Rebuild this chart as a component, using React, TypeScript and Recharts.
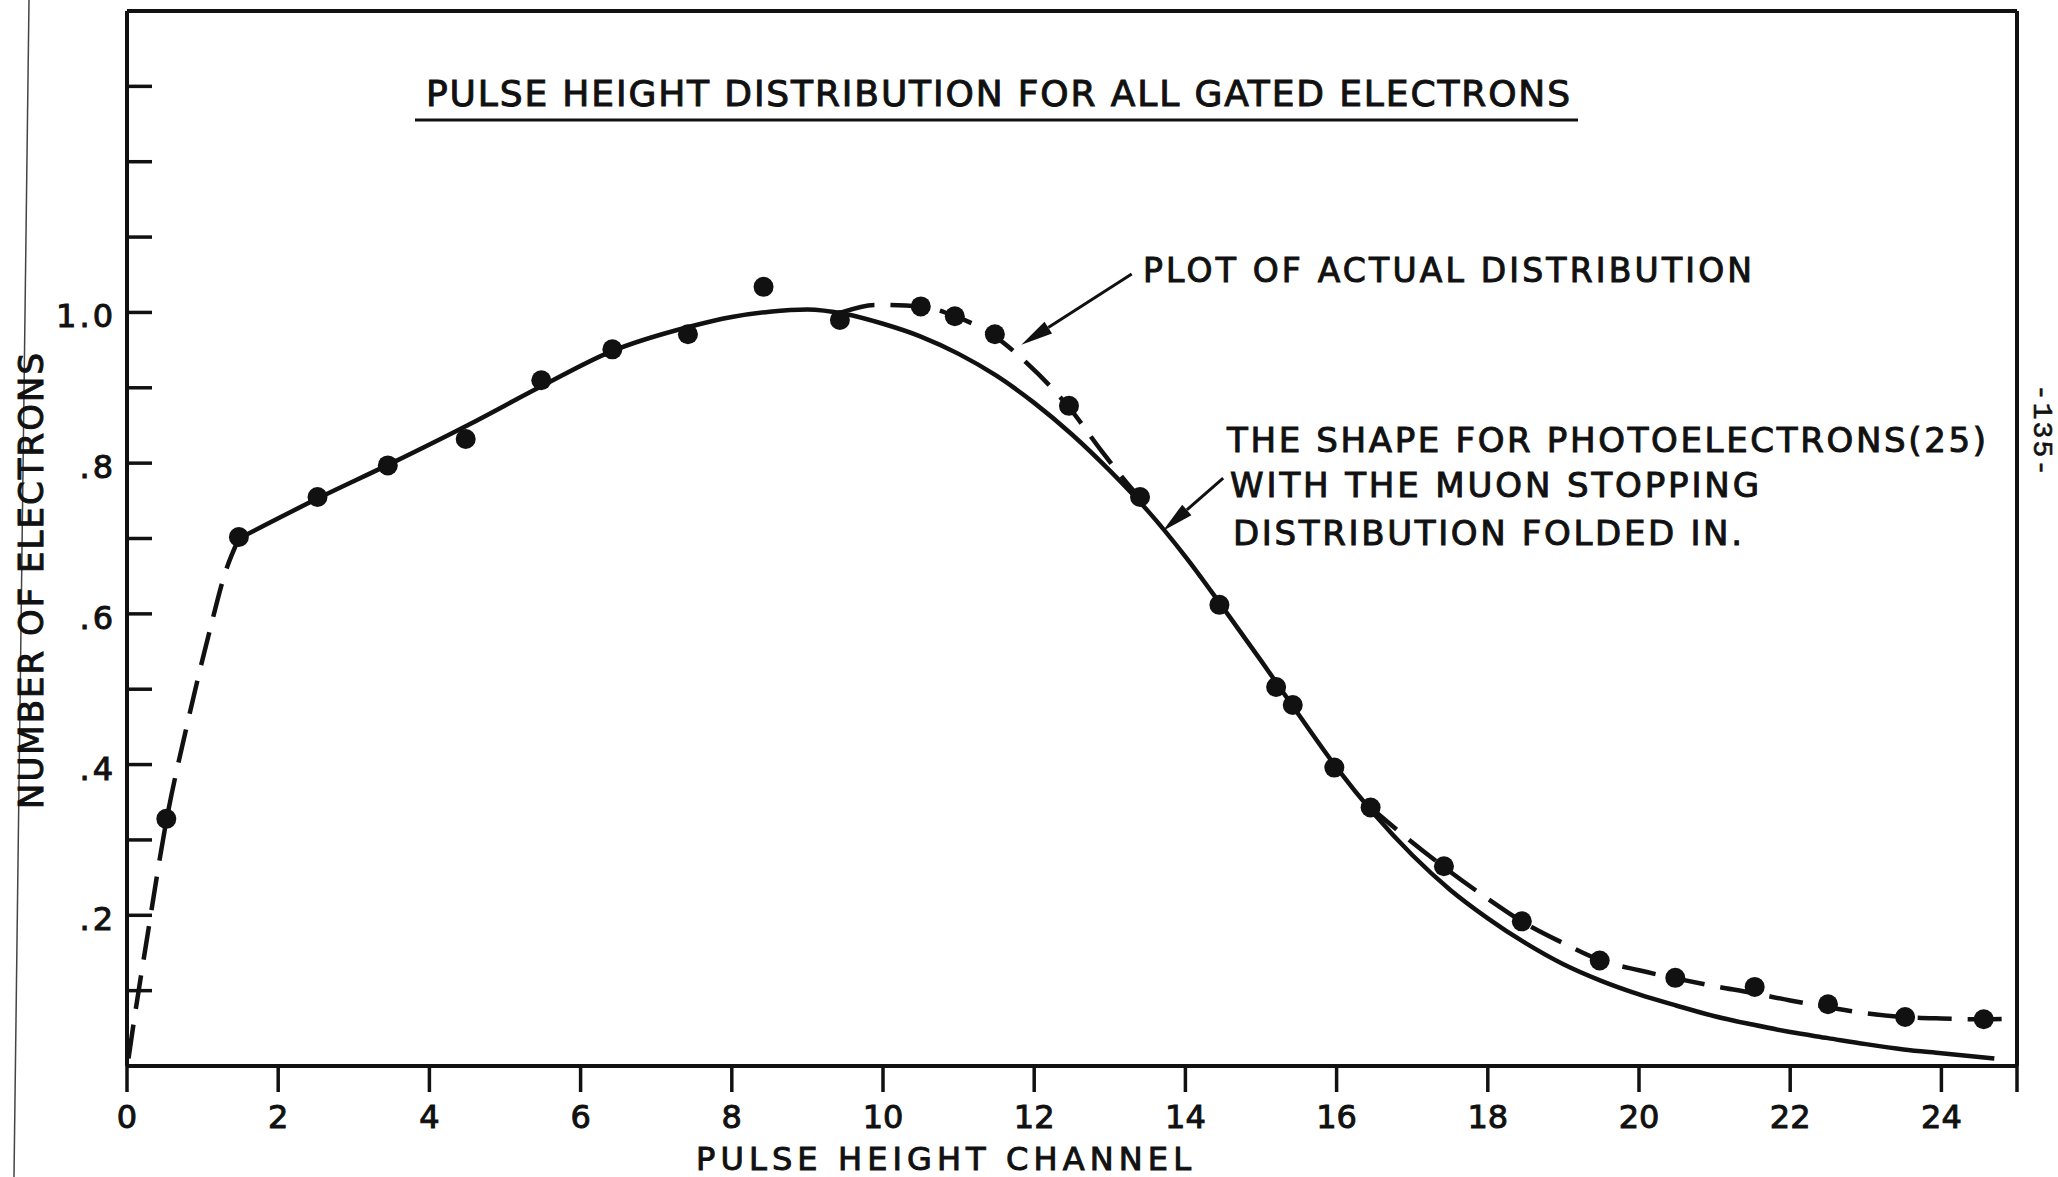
import React from 'react';
import { ComposedChart, Line, Scatter, XAxis, YAxis, ReferenceLine } from 'recharts';

// measured points: pulse height channel vs. relative number of electrons
const channelX = [
  0.52, 1.48, 2.52, 3.45, 4.48, 5.48, 6.42, 7.42, 8.42, 9.43, 10.5, 10.95, 11.48, 12.46,
  13.4, 14.45, 15.2, 15.42, 15.97, 16.45, 17.42, 18.45, 19.48, 20.48, 21.53, 22.5, 23.52, 24.56,
];
const electronsY = [
  0.328, 0.702, 0.755, 0.797, 0.832, 0.91, 0.951, 0.971, 1.034, 0.99, 1.008, 0.995, 0.971, 0.876,
  0.755, 0.612, 0.503, 0.479, 0.396, 0.343, 0.265, 0.192, 0.14, 0.117, 0.105, 0.082, 0.065, 0.062,
];

// dashed curve through the measurements (drawn where it leaves the solid curve)
const riseX = [0.02, 0.1, 0.25, 0.52, 0.8, 1.1, 1.3, 1.48];
const riseY = [0.01, 0.065, 0.16, 0.325, 0.455, 0.58, 0.655, 0.7];
const peakX = [9.45, 9.9, 10.5, 10.95, 11.47, 11.9, 12.46, 12.9, 13.3, 13.45];
const peakY = [1.0, 1.01, 1.008, 0.995, 0.969, 0.933, 0.874, 0.815, 0.765, 0.748];
const tailX = [16.45, 16.9, 17.42, 18.0, 18.45, 19.0, 19.5, 20.0, 20.5, 21.0, 21.5, 22.0, 22.5, 23.0, 23.5, 24.0, 24.55, 24.95];
const tailY = [0.343, 0.305, 0.264, 0.222, 0.192, 0.163, 0.14, 0.127, 0.116, 0.106, 0.097, 0.087, 0.078, 0.07, 0.065, 0.063, 0.062, 0.063];

// photoelectron shape with the muon stopping distribution folded in
const shapeX = [
  1.48, 2.5, 3.5, 4.5, 5.5, 6.4, 7.4, 8.0, 8.5, 9.0, 9.5, 10.0, 10.5, 11.0, 11.5, 12.0, 12.5, 13.0,
  13.5, 14.0, 14.5, 15.0, 15.5, 16.0, 16.5, 17.0, 17.5, 18.0, 18.5, 19.0, 19.5, 20.0, 20.5, 21.0,
  21.5, 22.0, 22.5, 23.0, 23.5, 24.0, 24.7,
];
const shapeY = [
  0.7, 0.752, 0.8, 0.85, 0.903, 0.948, 0.98, 0.994, 1.001, 1.004, 0.998, 0.985, 0.968, 0.945, 0.916,
  0.88, 0.838, 0.79, 0.737, 0.676, 0.608, 0.538, 0.466, 0.396, 0.334, 0.28, 0.234, 0.196, 0.163,
  0.135, 0.113, 0.095, 0.08, 0.066, 0.055, 0.045, 0.037, 0.029, 0.022, 0.017, 0.01,
];

const bottomTicks = [0, 2, 4, 6, 8, 10, 12, 14, 16, 18, 20, 22, 24, 25];
const topTicks = [2, 4, 6, 8, 10, 12, 14, 16, 18, 20, 22, 24];
const yTicks = [0.1, 0.2, 0.3, 0.4, 0.5, 0.6, 0.7, 0.8, 0.9, 1.0, 1.1, 1.2, 1.3];
const yTickLabels: Record<string, string> = { '0.2': '.2', '0.4': '.4', '0.6': '.6', '0.8': '.8', '1.0': '1.0' };

const zip = (xs: number[], ys: number[]) => xs.map((x, i) => ({ x, y: ys[i] }));

const points = zip(channelX, electronsY);
const rise = zip(riseX, riseY);
const peak = zip(peakX, peakY);
const tail = zip(tailX, tailY);
const shape = zip(shapeX, shapeY);

const INK = '#111';
const FONT = '"DejaVu Sans", sans-serif';
const DASH = '34 16';
// lettering is a little heavier than the plain font
const letter = { fontFamily: FONT, fill: INK, stroke: INK, strokeWidth: 1 };

function BottomTick({ x, y, payload }: any) {
  const v = payload.value;
  return (
    <g>
      <line x1={x} y1={y} x2={x} y2={y + 26} stroke={INK} strokeWidth={3.5} />
      {v % 2 === 0 && (
        <text x={x} y={y + 62} textAnchor="middle" fontSize={32} {...letter}>
          {v}
        </text>
      )}
    </g>
  );
}

function TopTick({ x, y }: any) {
  return <line x1={x} y1={y} x2={x} y2={y + 29} stroke={INK} strokeWidth={3.5} />;
}

function LeftTick({ x, y, payload }: any) {
  const label = yTickLabels[Number(payload.value).toFixed(1)];
  return (
    <g>
      <line x1={x} y1={y} x2={x + 25} y2={y} stroke={INK} strokeWidth={3.5} />
      {label && (
        <text x={x - 11} y={y + 15} textAnchor="end" fontSize={32} letterSpacing={3} {...letter}>
          {label}
        </text>
      )}
    </g>
  );
}

function RightTick({ x, y }: any) {
  return <line x1={x} y1={y} x2={x - 25} y2={y} stroke={INK} strokeWidth={3.5} />;
}

function Arrow(props: any) {
  const { x1, y1, x2, y2 } = props;
  const ang = Math.atan2(y2 - y1, x2 - x1);
  const len = 32;
  const half = 7;
  const bx = x2 - len * Math.cos(ang);
  const by = y2 - len * Math.sin(ang);
  const px = -Math.sin(ang) * half;
  const py = Math.cos(ang) * half;
  return (
    <g>
      <line x1={x1} y1={y1} x2={bx} y2={by} stroke={INK} strokeWidth={3} />
      <polygon points={`${x2},${y2} ${bx + px},${by + py} ${bx - px},${by - py}`} fill={INK} />
    </g>
  );
}

const Dot = (p: any) => <circle cx={p.cx} cy={p.cy} r={10} fill={INK} />;

export default function App() {
  return (
    <div style={{ position: 'absolute', left: 0, top: 0, width: 2058, height: 1177, background: '#fff' }}>
      <ComposedChart width={2058} height={1177} margin={{ top: 0, right: 0, bottom: 0, left: 0 }}>
        <XAxis
          xAxisId="bottom"
          dataKey="x"
          type="number"
          domain={[0, 25]}
          ticks={bottomTicks}
          interval={0}
          height={111}
          tickSize={0}
          tickMargin={0}
          tickLine={false}
          axisLine={{ stroke: INK, strokeWidth: 4 }}
          tick={<BottomTick />}
        />
        <XAxis
          xAxisId="top"
          orientation="top"
          dataKey="x"
          type="number"
          domain={[0, 25]}
          ticks={topTicks}
          interval={0}
          height={11}
          tickSize={0}
          tickMargin={0}
          tickLine={false}
          axisLine={{ stroke: INK, strokeWidth: 4 }}
          tick={<TopTick />}
        />
        <YAxis
          yAxisId="left"
          type="number"
          domain={[0, 1.4]}
          ticks={yTicks}
          interval={0}
          width={127}
          tickSize={0}
          tickMargin={0}
          tickLine={false}
          axisLine={{ stroke: INK, strokeWidth: 4 }}
          tick={<LeftTick />}
        />
        <YAxis
          yAxisId="right"
          orientation="right"
          type="number"
          domain={[0, 1.4]}
          ticks={yTicks}
          interval={0}
          width={41}
          tickSize={0}
          tickMargin={0}
          tickLine={false}
          axisLine={{ stroke: INK, strokeWidth: 4 }}
          tick={<RightTick />}
        />

        <Line xAxisId="bottom" yAxisId="left" data={shape} dataKey="y" type="monotone" stroke={INK} strokeWidth={4.5} dot={false} activeDot={false} isAnimationActive={false} />
        <Line xAxisId="bottom" yAxisId="left" data={rise} dataKey="y" type="monotone" stroke={INK} strokeWidth={4.5} strokeDasharray={DASH} dot={false} activeDot={false} isAnimationActive={false} />
        <Line xAxisId="bottom" yAxisId="left" data={peak} dataKey="y" type="monotone" stroke={INK} strokeWidth={4.5} strokeDasharray={DASH} dot={false} activeDot={false} isAnimationActive={false} />
        <Line xAxisId="bottom" yAxisId="left" data={tail} dataKey="y" type="monotone" stroke={INK} strokeWidth={4.5} strokeDasharray={DASH} dot={false} activeDot={false} isAnimationActive={false} />
        <Scatter xAxisId="bottom" yAxisId="left" data={points} dataKey="y" shape={Dot} isAnimationActive={false} />

        <ReferenceLine xAxisId="bottom" yAxisId="left" segment={[{ x: 13.29, y: 1.051 }, { x: 11.83, y: 0.957 }]} shape={Arrow} />
        <ReferenceLine xAxisId="bottom" yAxisId="left" segment={[{ x: 14.5, y: 0.78 }, { x: 13.7, y: 0.71 }]} shape={Arrow} />
      </ComposedChart>

      <svg width={2058} height={1177} style={{ position: 'absolute', left: 0, top: 0, pointerEvents: 'none' }}>
        <line x1={29} y1={0} x2={14} y2={1177} stroke="#444" strokeWidth={1.5} />
        <text x={426} y={106} fontSize={36} textLength={1144} {...letter}>
          PULSE HEIGHT DISTRIBUTION FOR ALL GATED ELECTRONS
        </text>
        <line x1={415} y1={120} x2={1578} y2={120} stroke={INK} strokeWidth={3} />
        <text x={1143} y={282} fontSize={33} textLength={609} {...letter}>
          PLOT OF ACTUAL DISTRIBUTION
        </text>
        <text x={1227} y={452} fontSize={34} textLength={759} {...letter}>
          THE SHAPE FOR PHOTOELECTRONS(25)
        </text>
        <text x={1230} y={497} fontSize={34} textLength={529} {...letter}>
          WITH THE MUON STOPPING
        </text>
        <text x={1233} y={545} fontSize={34} textLength={509} {...letter}>
          DISTRIBUTION FOLDED IN.
        </text>
        <text x={696} y={1170} fontSize={32} textLength={495} {...letter}>
          PULSE HEIGHT CHANNEL
        </text>
        <text transform="translate(43,581) rotate(-90)" textAnchor="middle" fontSize={34} textLength={456} {...letter}>
          NUMBER OF ELECTRONS
        </text>
        <text
          transform="translate(2034,431) rotate(90)"
          textAnchor="middle"
          fontFamily='"Liberation Mono", monospace'
          fontSize={28}
          letterSpacing={2}
          fill={INK}
          stroke={INK}
          strokeWidth={0.6}
        >
          -135-
        </text>
      </svg>
    </div>
  );
}
